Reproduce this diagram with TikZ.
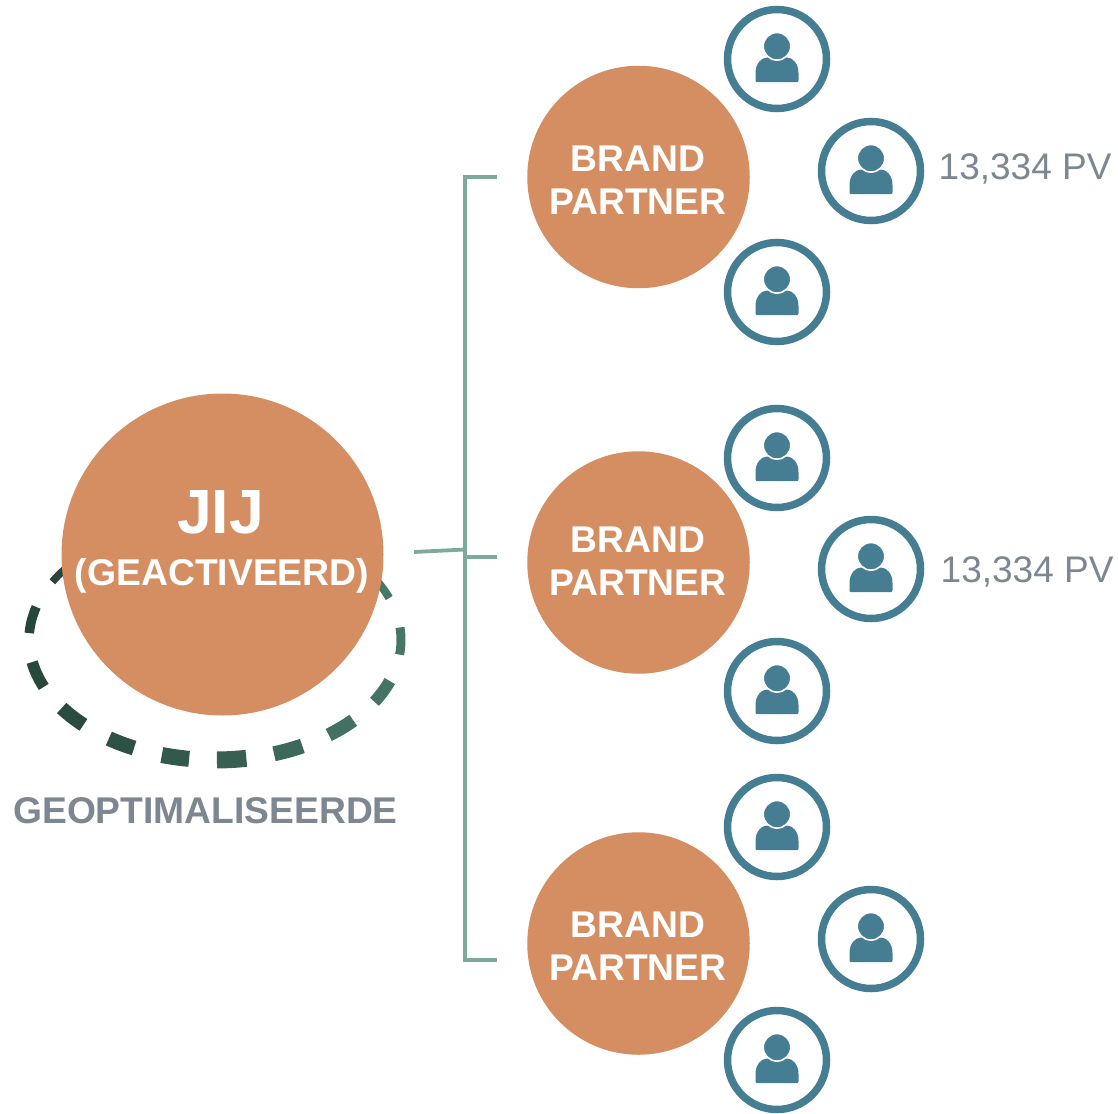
\documentclass[tikz,border=0pt]{standalone}
\usepackage{fontspec}
\setmainfont{Liberation Sans}
\definecolor{BrandOrange}{HTML}{D58E62}
\definecolor{PersonBlue}{HTML}{457D92}
\definecolor{TrunkGreen}{HTML}{7DAA9C}
\definecolor{LabelGrey}{HTML}{7D8691}
\definecolor{RingDark}{HTML}{26463A}
\definecolor{RingLight}{HTML}{47786A}
\tikzset{
	bigcircle/.style={circle,fill=BrandOrange,inner sep=0pt,minimum size=322pt},
	brandcircle/.style={circle,fill=BrandOrange,inner sep=0pt,minimum size=222.5pt},
	brandlabel/.style={inner sep=0pt,align=center,text=white,font=\fontsize{37.2}{43}\selectfont\bfseries},
	personring/.style={circle,draw=PersonBlue,line width=7.5pt,fill=white,inner sep=0pt,minimum size=99pt},
	pvlabel/.style={anchor=base west,inner sep=0pt,text=LabelGrey,font=\fontsize{37}{43}\selectfont},
	trunk/.style={TrunkGreen,line width=3.8pt},
	person/.pic={
		\fill[PersonBlue] (-19.5,-23.2) .. controls (-20.8,-23.2) and (-21.5,-22.5) .. (-21.5,-21.2) -- (-21.5,-14) .. controls (-21.5,-5) and (-16,1.5) .. (-10,1.5) -- (10,1.5) .. controls (16,1.5) and (21.5,-5) .. (21.5,-14) -- (21.5,-21.2) .. controls (21.5,-22.5) and (20.8,-23.2) .. (19.5,-23.2) -- cycle;
		\draw[white,line width=1.6pt,fill=PersonBlue] (0,12.7) circle (13.8);
	}
}
\begin{document}
\begin{tikzpicture}[x=1pt,y=1pt,yscale=-1,xscale=1]
		\useasboundingbox (0,0) rectangle (1118,1113);

		% Dashed ring under the big circle: start angle / end angle / width / share of the dark colour
		\foreach \ringfrom/\ringto/\ringwidth/\ringmix in {
			219/209/7.5/100, 196/183.3/9.5/100, 169.4/157/11.5/95, 145.5/135/14/88,
			124.8/115.8/15/78, 106.6/98/16/62, 89.4/80.3/17/50, 71.5/62/15/30,
			52.3/42/13.5/15, 31/20/12/8, 7/-6/9/5, -20.5/-30/8/0}
		{
			\draw[RingDark!\ringmix!RingLight,line width=\ringwidth pt,shift={(215,640)}]
			(\ringfrom:186 and 120) arc[start angle=\ringfrom,end angle=\ringto,x radius=186,y radius=120];
		}

		% The big circle and its text
		\node[bigcircle] (jij) at (222.5,554.5) {};
		\node[anchor=base,inner sep=0pt,text=white,font=\fontsize{62.5}{61}\selectfont\bfseries] (jijtext) at (220.5,533) {JIJ};
		\node[anchor=base,inner sep=0pt,text=white,font=\fontsize{37.3}{40}\selectfont\bfseries] (geactiveerd) at (222,585) {(GEACTIVEERD)};
		\node[anchor=base,inner sep=0pt,text=LabelGrey,font=\fontsize{37.2}{40}\selectfont\bfseries] (geoptimaliseerde) at (205.5,823) {GEOPTIMALISEERDE};

		% The three brand partners
		\node[brandcircle] (bpone) at (638.5,177) {};
		\node[brandcircle] (bptwo) at (638.5,562.5) {};
		\node[brandcircle] (bpthree) at (638.5,943.5) {};
		\node[brandlabel] (bponetext) at (638,180.5) {BRAND\\PARTNER};
		\node[brandlabel] (bptwotext) at (638,561.5) {BRAND\\PARTNER};
		\node[brandlabel] (bpthreetext) at (638,946.5) {BRAND\\PARTNER};

		% The bracket
		\coordinate (trunkin) at (414,552);
		\coordinate (trunkmid) at (465,549.5);
		\coordinate (trunktop) at (465,177);
		\coordinate (trunkbot) at (465,960);
		\coordinate (tickone) at (497,177);
		\coordinate (ticktwo) at (497,557);
		\coordinate (tickthree) at (497,960);
		\coordinate (ticktwostart) at (465,557);
		\draw[trunk] (tickone) -- (trunktop) -- (trunkbot) -- (tickthree);
		\draw[trunk] (trunkin) -- (trunkmid);
		\draw[trunk] (ticktwostart) -- (ticktwo);

		% The nine people
		\foreach \personname/\personx/\persony in {
			pa/777/59, pb/871/171, pc/777/292,
			pd/777/458, pe/871/569, pf/777/691,
			pg/777/827, ph/871/939, pi/777/1060}
		{
			\node[personring] (\personname) at (\personx,\persony) {};
			\pic at (\personname) {person};
		}

		% The volumes
		\node[pvlabel] (pvone) at (938.5,179) {13,334 PV};
		\node[pvlabel] (pvtwo) at (940.5,582) {13,334 PV};
\end{tikzpicture}
\end{document}
